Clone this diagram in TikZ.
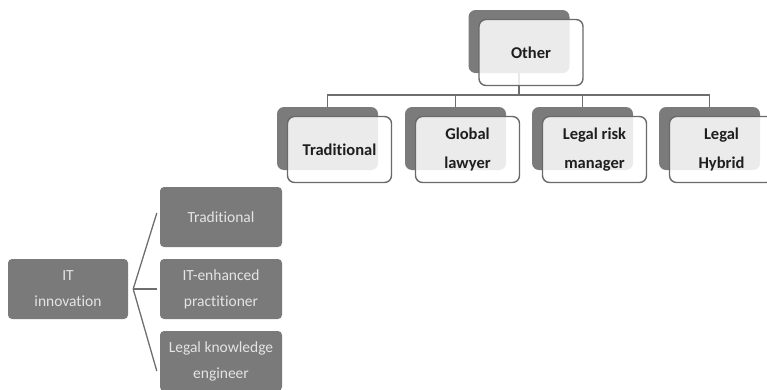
\documentclass[tikz,border=0pt]{standalone}
\usepackage{fontspec}
\setmainfont[Ligatures=NoCommon]{Carlito}
\definecolor{backgray}{HTML}{7B7B7B}
\definecolor{edgegray}{HTML}{6A6A6A}
\definecolor{leftgray}{HTML}{7A7A7A}
\definecolor{lefttext}{HTML}{E4E4E4}
\definecolor{linegray}{HTML}{6E6E6E}
\definecolor{darktext}{HTML}{1E1E1E}
\begin{document}
\begin{tikzpicture}[x=1pt,y=-1pt,
  backbox/.style={fill=backgray, rounded corners=7pt, minimum width=101pt, minimum height=63pt, inner sep=0pt},
  frontbox/.style={draw=edgegray, line width=1.4pt, fill=white, fill opacity=0.85, text opacity=1,
     rounded corners=7pt, minimum width=104pt, minimum height=66pt, inner sep=0pt, align=center,
     text=darktext, font=\fontsize{16.5}{28.5}\selectfont\bfseries},
  leftbox/.style={fill=leftgray, rounded corners=4pt, minimum height=60pt, inner sep=0pt, align=center,
     text=lefttext, font=\fontsize{15.5}{26}\selectfont},
  conn/.style={draw=linegray, line width=1.3pt}]
\useasboundingbox (0,0) rectangle (767,389);
\clip (0,0) rectangle (767,389);
% hierarchy back boxes
\node[backbox] (ob) at (519,41.5) {};
\node[backbox] (b1) at (327.5,138.5) {};
\node[backbox] (b2) at (455.5,138.5) {};
\node[backbox] (b3) at (582.5,138.5) {};
\node[backbox] (b4) at (709.5,138.5) {};
\coordinate (bar) at (519,95);
% connectors
\draw[conn] (ob.south) -- (ob.south |- bar) -| (b1.north);
\draw[conn] (ob.south |- bar) -| (b2.north);
\draw[conn] (ob.south |- bar) -| (b3.north);
\draw[conn] (ob.south |- bar) -| (b4.north);
% front boxes
\node[frontbox] (of) at (531,52.5) {Other};
\node[frontbox] (f1) at (339.5,149.5) {Traditional};
\node[frontbox] (f2) at (467.5,149.5) {Global\\lawyer};
\node[frontbox] (f3) at (594.5,149.5) {Legal risk\\manager};
\node[frontbox] (f4) at (721.5,149.5) {Legal\\Hybrid};
% left tree
\node[leftbox, minimum width=120pt] (it) at (68,289) {IT\\innovation};
\node[leftbox, minimum width=122pt] (l1) at (221,217) {Traditional};
\node[leftbox, minimum width=122pt] (l2) at (221,289) {IT-enhanced\\practitioner};
\node[leftbox, minimum width=122pt] (l3) at (221,361) {Legal knowledge\\engineer};
\coordinate (fan) at ([xshift=5pt]it.east);
\draw[conn] (fan) -- ([xshift=-3pt,yshift=4pt]l1.west);
\draw[conn] (fan) -- ([xshift=-3pt]l2.west);
\draw[conn] (fan) -- ([xshift=-3pt,yshift=-10pt]l3.west);
\end{tikzpicture}
\end{document}
